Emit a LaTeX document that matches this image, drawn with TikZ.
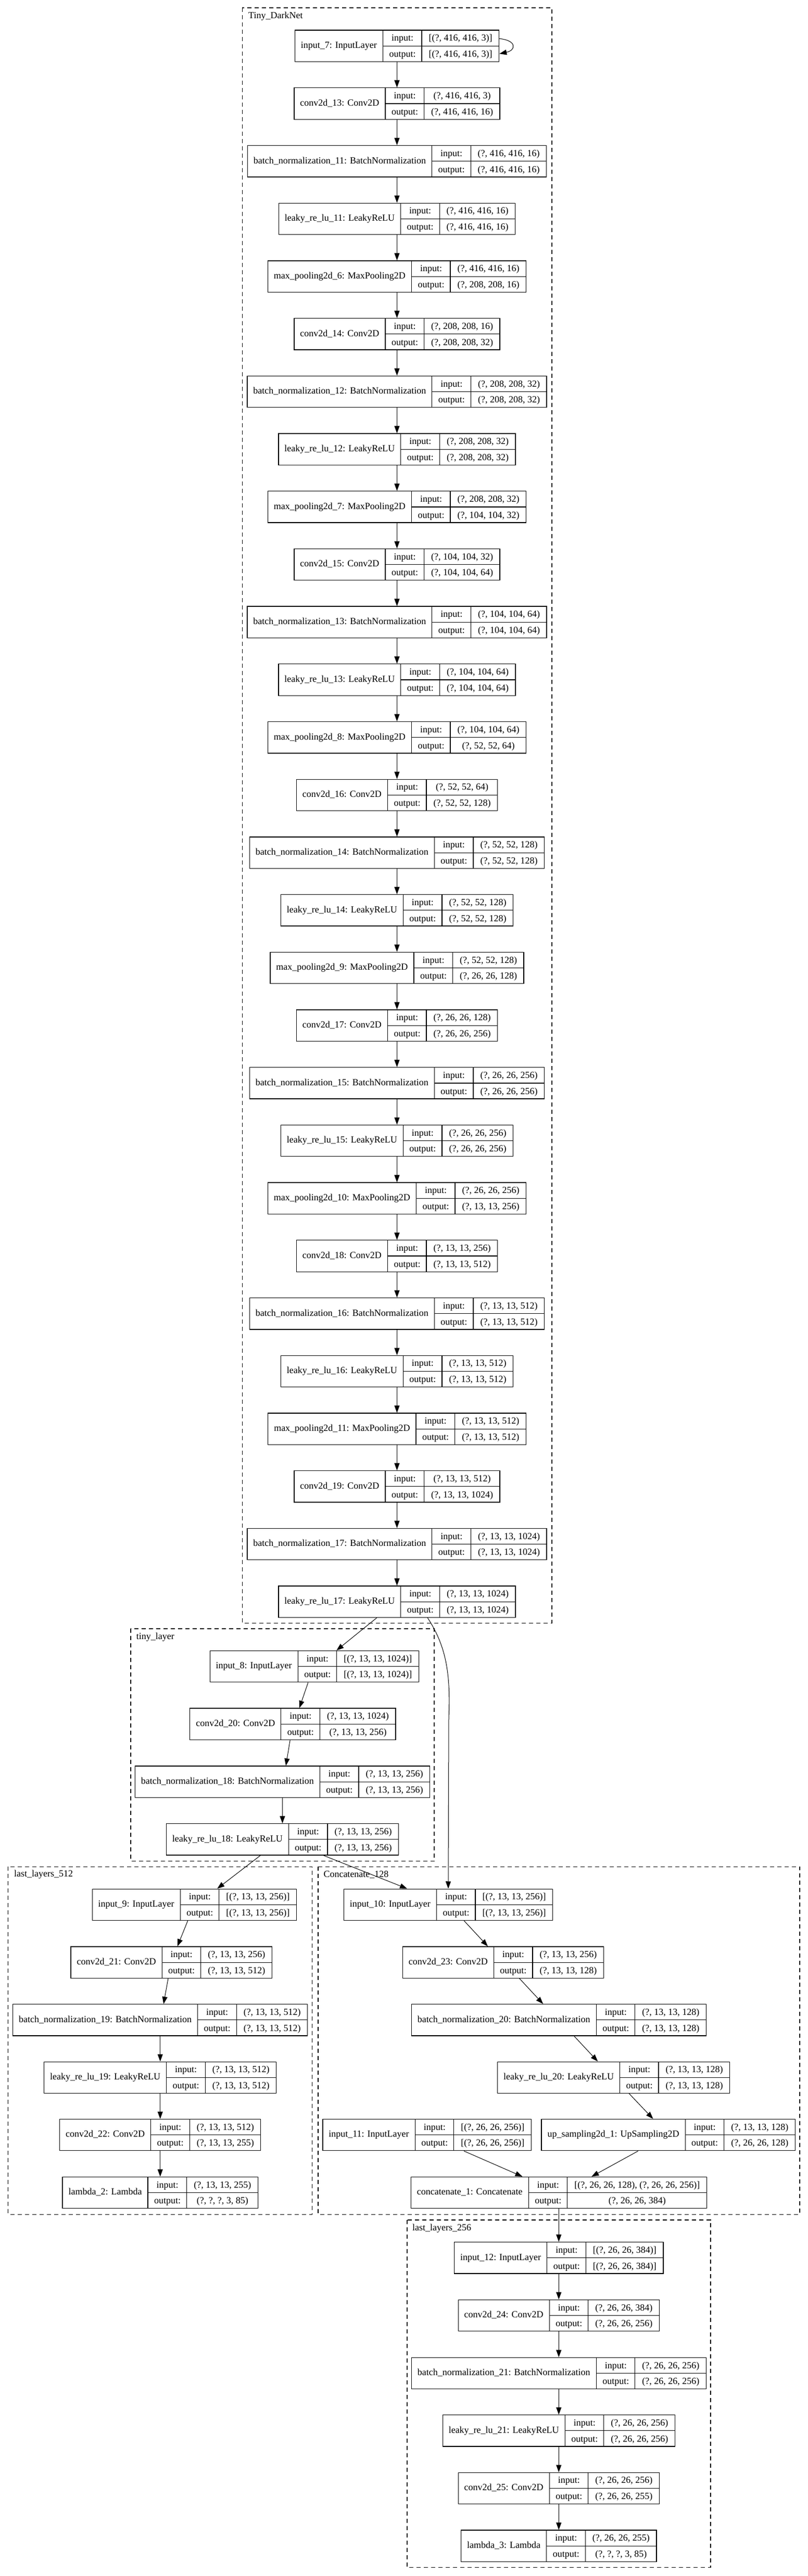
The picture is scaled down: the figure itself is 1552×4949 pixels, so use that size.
\documentclass[tikz,border=0pt]{standalone}
\usepackage{fontspec}
\setmainfont{Liberation Serif}
\usetikzlibrary{arrows.meta}
\setlength{\arrayrulewidth}{1.2pt}
\renewcommand{\arraystretch}{1.37}
\newcommand{\layer}[3]{%
\begin{tabular}{@{\hspace{11.5pt}}c@{\hspace{11.5pt}}|@{}c@{}}
#1 &
\begin{tabular}{@{\hspace{11.5pt}}c@{\hspace{11.5pt}}|@{\hspace{13pt}}c@{\hspace{13pt}}}
input: & #2 \\ \hline
output: & #3
\end{tabular}
\end{tabular}}

\begin{document}
\begin{tikzpicture} [x = 1pt, y = -1pt,
every node/.style = {font = \fontsize{18}{21.6}\selectfont},
layer/.style = {draw, line width = 1.3pt, inner sep = 0pt, fill = white},
edge/.style = {line width = 1pt, -{Triangle[length = 14pt, width = 10pt]}},
cluster/.style = {line width = 1.2pt, dash pattern = on 8pt off 6pt},
clusterlabel/.style = {anchor = west, inner sep = 0pt}]
\useasboundingbox (0.0, 0.0) rectangle (1552.0, 4949.0);
\draw[cluster] (465.3, 15.0) rectangle (1060.0, 3118.3);
\draw[cluster] (251.0, 3129.0) rectangle (834.0, 3575.4);
\draw[cluster] (15.8, 3586.2) rectangle (599.8, 4254.3);
\draw[cluster] (611.0, 3586.2) rectangle (1536.0, 4254.3);
\draw[cluster] (782.0, 4265.0) rectangle (1365.0, 4932.7);
\node[clusterlabel] (tdn) at (477.0, 31.0){Tiny\_DarkNet};
\node[clusterlabel] (tl) at (261.6, 3145.0){tiny\_layer};
\node[clusterlabel] (ll512) at (26.9, 3601.4){last\_layers\_512};
\node[clusterlabel] (cc128) at (621.3, 3601.4){Concatenate\_128};
\node[clusterlabel] (ll256) at (792.0, 4281.0){last\_layers\_256};
\node[layer] (in7) at (762.5, 88.3){\layer{input\_7: InputLayer}{[(?, 416, 416, 3)]}{[(?, 416, 416, 3)]}};
\node[layer] (c13) at (762.5, 199.0){\layer{conv2d\_13: Conv2D}{(?, 416, 416, 3)}{(?, 416, 416, 16)}};
\node[layer] (bn11) at (762.5, 309.7){\layer{batch\_normalization\_11: BatchNormalization}{(?, 416, 416, 16)}{(?, 416, 416, 16)}};
\node[layer] (lr11) at (762.5, 420.4){\layer{leaky\_re\_lu\_11: LeakyReLU}{(?, 416, 416, 16)}{(?, 416, 416, 16)}};
\node[layer] (mp6) at (762.5, 531.1){\layer{max\_pooling2d\_6: MaxPooling2D}{(?, 416, 416, 16)}{(?, 208, 208, 16)}};
\node[layer] (c14) at (762.5, 641.8){\layer{conv2d\_14: Conv2D}{(?, 208, 208, 16)}{(?, 208, 208, 32)}};
\node[layer] (bn12) at (762.5, 752.5){\layer{batch\_normalization\_12: BatchNormalization}{(?, 208, 208, 32)}{(?, 208, 208, 32)}};
\node[layer] (lr12) at (762.5, 863.2){\layer{leaky\_re\_lu\_12: LeakyReLU}{(?, 208, 208, 32)}{(?, 208, 208, 32)}};
\node[layer] (mp7) at (762.5, 973.9){\layer{max\_pooling2d\_7: MaxPooling2D}{(?, 208, 208, 32)}{(?, 104, 104, 32)}};
\node[layer] (c15) at (762.5, 1084.6){\layer{conv2d\_15: Conv2D}{(?, 104, 104, 32)}{(?, 104, 104, 64)}};
\node[layer] (bn13) at (762.5, 1195.3){\layer{batch\_normalization\_13: BatchNormalization}{(?, 104, 104, 64)}{(?, 104, 104, 64)}};
\node[layer] (lr13) at (762.5, 1306.0){\layer{leaky\_re\_lu\_13: LeakyReLU}{(?, 104, 104, 64)}{(?, 104, 104, 64)}};
\node[layer] (mp8) at (762.5, 1416.7){\layer{max\_pooling2d\_8: MaxPooling2D}{(?, 104, 104, 64)}{(?, 52, 52, 64)}};
\node[layer] (c16) at (762.5, 1527.4){\layer{conv2d\_16: Conv2D}{(?, 52, 52, 64)}{(?, 52, 52, 128)}};
\node[layer] (bn14) at (762.5, 1638.1){\layer{batch\_normalization\_14: BatchNormalization}{(?, 52, 52, 128)}{(?, 52, 52, 128)}};
\node[layer] (lr14) at (762.5, 1748.8){\layer{leaky\_re\_lu\_14: LeakyReLU}{(?, 52, 52, 128)}{(?, 52, 52, 128)}};
\node[layer] (mp9) at (762.5, 1859.5){\layer{max\_pooling2d\_9: MaxPooling2D}{(?, 52, 52, 128)}{(?, 26, 26, 128)}};
\node[layer] (c17) at (762.5, 1970.2){\layer{conv2d\_17: Conv2D}{(?, 26, 26, 128)}{(?, 26, 26, 256)}};
\node[layer] (bn15) at (762.5, 2080.9){\layer{batch\_normalization\_15: BatchNormalization}{(?, 26, 26, 256)}{(?, 26, 26, 256)}};
\node[layer] (lr15) at (762.5, 2191.6){\layer{leaky\_re\_lu\_15: LeakyReLU}{(?, 26, 26, 256)}{(?, 26, 26, 256)}};
\node[layer] (mp10) at (762.5, 2302.3){\layer{max\_pooling2d\_10: MaxPooling2D}{(?, 26, 26, 256)}{(?, 13, 13, 256)}};
\node[layer] (c18) at (762.5, 2413.0){\layer{conv2d\_18: Conv2D}{(?, 13, 13, 256)}{(?, 13, 13, 512)}};
\node[layer] (bn16) at (762.5, 2523.7){\layer{batch\_normalization\_16: BatchNormalization}{(?, 13, 13, 512)}{(?, 13, 13, 512)}};
\node[layer] (lr16) at (762.5, 2634.4){\layer{leaky\_re\_lu\_16: LeakyReLU}{(?, 13, 13, 512)}{(?, 13, 13, 512)}};
\node[layer] (mp11) at (762.5, 2745.1){\layer{max\_pooling2d\_11: MaxPooling2D}{(?, 13, 13, 512)}{(?, 13, 13, 512)}};
\node[layer] (c19) at (762.5, 2855.8){\layer{conv2d\_19: Conv2D}{(?, 13, 13, 512)}{(?, 13, 13, 1024)}};
\node[layer] (bn17) at (762.5, 2966.5){\layer{batch\_normalization\_17: BatchNormalization}{(?, 13, 13, 1024)}{(?, 13, 13, 1024)}};
\node[layer] (lr17) at (762.5, 3077.2){\layer{leaky\_re\_lu\_17: LeakyReLU}{(?, 13, 13, 1024)}{(?, 13, 13, 1024)}};
\node[layer] (in8) at (603.8, 3201.6){\layer{input\_8: InputLayer}{[(?, 13, 13, 1024)]}{[(?, 13, 13, 1024)]}};
\node[layer] (c20) at (562.4, 3312.2){\layer{conv2d\_20: Conv2D}{(?, 13, 13, 1024)}{(?, 13, 13, 256)}};
\node[layer] (bn18) at (542.5, 3423.1){\layer{batch\_normalization\_18: BatchNormalization}{(?, 13, 13, 256)}{(?, 13, 13, 256)}};
\node[layer] (lr18) at (542.5, 3533.8){\layer{leaky\_re\_lu\_18: LeakyReLU}{(?, 13, 13, 256)}{(?, 13, 13, 256)}};
\node[layer] (in9) at (373.3, 3659.3){\layer{input\_9: InputLayer}{[(?, 13, 13, 256)]}{[(?, 13, 13, 256)]}};
\node[layer] (c21) at (329.2, 3770.1){\layer{conv2d\_21: Conv2D}{(?, 13, 13, 256)}{(?, 13, 13, 512)}};
\node[layer] (bn19) at (307.7, 3880.8){\layer{batch\_normalization\_19: BatchNormalization}{(?, 13, 13, 512)}{(?, 13, 13, 512)}};
\node[layer] (lr19) at (307.7, 3991.3){\layer{leaky\_re\_lu\_19: LeakyReLU}{(?, 13, 13, 512)}{(?, 13, 13, 512)}};
\node[layer] (c22) at (307.7, 4101.6){\layer{conv2d\_22: Conv2D}{(?, 13, 13, 512)}{(?, 13, 13, 255)}};
\node[layer] (lam2) at (307.7, 4212.5){\layer{lambda\_2: Lambda}{(?, 13, 13, 255)}{(?, ?, ?, 3, 85)}};
\node[layer] (in10) at (861.0, 3659.3){\layer{input\_10: InputLayer}{[(?, 13, 13, 256)]}{[(?, 13, 13, 256)]}};
\node[layer] (c23) at (966.4, 3770.1){\layer{conv2d\_23: Conv2D}{(?, 13, 13, 256)}{(?, 13, 13, 128)}};
\node[layer] (bn20) at (1073.3, 3880.8){\layer{batch\_normalization\_20: BatchNormalization}{(?, 13, 13, 128)}{(?, 13, 13, 128)}};
\node[layer] (lr20) at (1178.6, 3991.3){\layer{leaky\_re\_lu\_20: LeakyReLU}{(?, 13, 13, 128)}{(?, 13, 13, 128)}};
\node[layer] (in11) at (820.1, 4101.6){\layer{input\_11: InputLayer}{[(?, 26, 26, 256)]}{[(?, 26, 26, 256)]}};
\node[layer] (up1) at (1283.7, 4101.6){\layer{up\_sampling2d\_1: UpSampling2D}{(?, 13, 13, 128)}{(?, 26, 26, 128)}};
\node[layer] (cat1) at (1073.3, 4212.5){\layer{concatenate\_1: Concatenate}{[(?, 26, 26, 128), (?, 26, 26, 256)]}{(?, 26, 26, 384)}};
\node[layer] (in12) at (1073.3, 4337.7){\layer{input\_12: InputLayer}{[(?, 26, 26, 384)]}{[(?, 26, 26, 384)]}};
\node[layer] (c24) at (1073.3, 4448.5){\layer{conv2d\_24: Conv2D}{(?, 26, 26, 384)}{(?, 26, 26, 256)}};
\node[layer] (bn21) at (1073.3, 4559.5){\layer{batch\_normalization\_21: BatchNormalization}{(?, 26, 26, 256)}{(?, 26, 26, 256)}};
\node[layer] (lr21) at (1073.3, 4669.8){\layer{leaky\_re\_lu\_21: LeakyReLU}{(?, 26, 26, 256)}{(?, 26, 26, 256)}};
\node[layer] (c25) at (1073.3, 4780.4){\layer{conv2d\_25: Conv2D}{(?, 26, 26, 256)}{(?, 26, 26, 255)}};
\node[layer] (lam3) at (1073.3, 4891.2){\layer{lambda\_3: Lambda}{(?, 26, 26, 255)}{(?, ?, ?, 3, 85)}};
\draw[edge] ([yshift = 14pt]in7.east) .. controls +(33, 3) and +(33, -7) .. ([yshift = -15pt]in7.east);
\draw[edge] (in7) -- (c13);
\draw[edge] (c13) -- (bn11);
\draw[edge] (bn11) -- (lr11);
\draw[edge] (lr11) -- (mp6);
\draw[edge] (mp6) -- (c14);
\draw[edge] (c14) -- (bn12);
\draw[edge] (bn12) -- (lr12);
\draw[edge] (lr12) -- (mp7);
\draw[edge] (mp7) -- (c15);
\draw[edge] (c15) -- (bn13);
\draw[edge] (bn13) -- (lr13);
\draw[edge] (lr13) -- (mp8);
\draw[edge] (mp8) -- (c16);
\draw[edge] (c16) -- (bn14);
\draw[edge] (bn14) -- (lr14);
\draw[edge] (lr14) -- (mp9);
\draw[edge] (mp9) -- (c17);
\draw[edge] (c17) -- (bn15);
\draw[edge] (bn15) -- (lr15);
\draw[edge] (lr15) -- (mp10);
\draw[edge] (mp10) -- (c18);
\draw[edge] (c18) -- (bn16);
\draw[edge] (bn16) -- (lr16);
\draw[edge] (lr16) -- (mp11);
\draw[edge] (mp11) -- (c19);
\draw[edge] (c19) -- (bn17);
\draw[edge] (bn17) -- (lr17);
\draw[edge] ([xshift = -38.8pt]lr17.south) -- ([xshift = 42.5pt]in8.north);
\draw[edge] ([xshift = 58.8pt]lr17.south) .. controls (855.0, 3160.0) and (866.0, 3210.0) .. (862.0, 3300.0) -- (in10.north);
\draw[edge] ([xshift = -12.0pt]in8.south) -- ([xshift = 12.6pt]c20.north);
\draw[edge] ([xshift = -5.2pt]c20.south) -- ([xshift = 6.6pt]bn18.north);
\draw[edge] (bn18) -- (lr18);
\draw[edge] ([xshift = -42.3pt]lr18.south) -- ([xshift = 43.9pt]in9.north);
\draw[edge] ([xshift = 78.8pt]lr18.south) -- ([xshift = -78.9pt]in10.north);
\draw[edge] ([xshift = -12.7pt]in9.south) -- ([xshift = 11.6pt]c21.north);
\draw[edge] ([xshift = -6.2pt]c21.south) -- ([xshift = 6.5pt]bn19.north);
\draw[edge] (bn19) -- (lr19);
\draw[edge] (lr19) -- (c22);
\draw[edge] (c22) -- (lam2);
\draw[edge] ([xshift = 30.4pt]in10.south) -- ([xshift = -29.4pt]c23.north);
\draw[edge] ([xshift = 31.3pt]c23.south) -- ([xshift = -30.1pt]bn20.north);
\draw[edge] ([xshift = 29.4pt]bn20.south) -- ([xshift = -30.3pt]lr20.north);
\draw[edge] ([xshift = 29.8pt]lr20.south) -- ([xshift = -29.2pt]up1.north);
\draw[edge] ([xshift = 70.9pt]in11.south) -- ([xshift = -69.7pt]cat1.north);
\draw[edge] ([xshift = -58.0pt]up1.south) -- ([xshift = 62.9pt]cat1.north);
\draw[edge] (cat1) -- (in12);
\draw[edge] (in12) -- (c24);
\draw[edge] (c24) -- (bn21);
\draw[edge] (bn21) -- (lr21);
\draw[edge] (lr21) -- (c25);
\draw[edge] (c25) -- (lam3);
\end{tikzpicture}
\end{document}
